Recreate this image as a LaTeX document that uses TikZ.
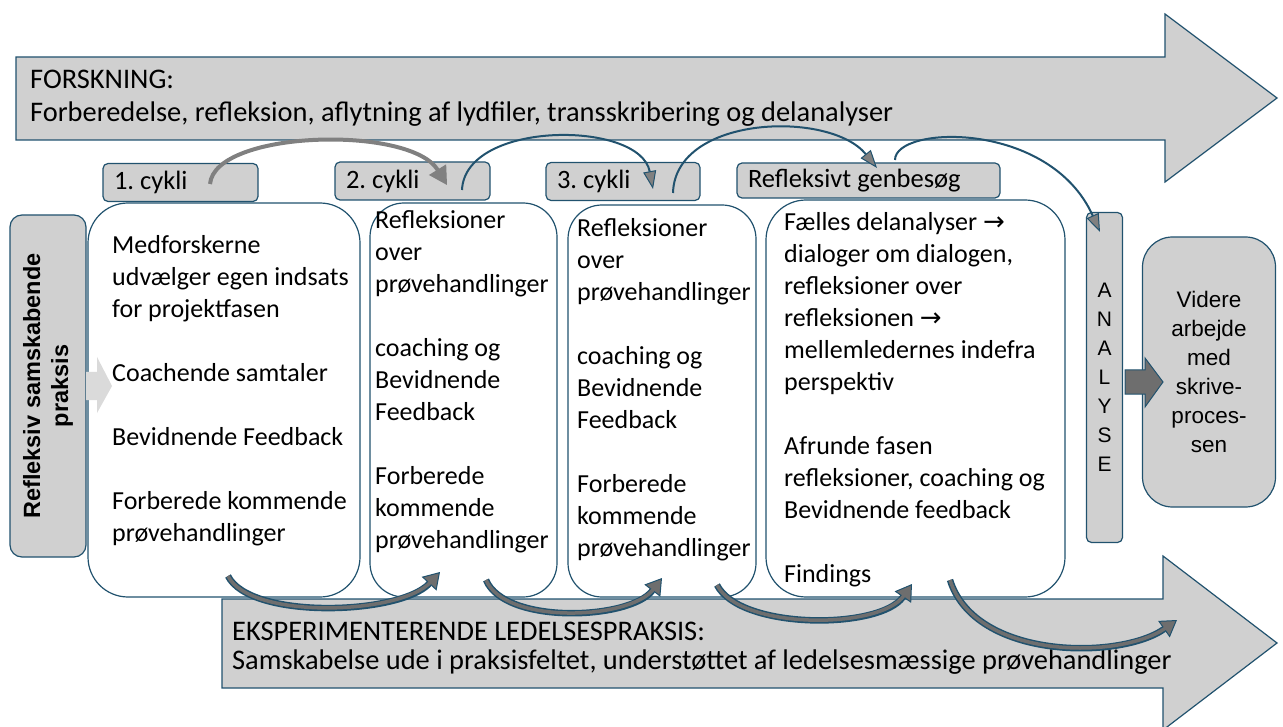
\documentclass[tikz,border=0pt]{standalone}
\usepackage{fontspec}
\setmainfont{Carlito}
\newfontfamily\arialfont{Liberation Sans}
\newfontfamily\symfont{DejaVu Sans}
\usetikzlibrary{arrows.meta}
\frenchspacing

\definecolor{edgeteal}{RGB}{33,82,110}
\definecolor{boxgray}{RGB}{208,208,208}
\definecolor{lightchev}{RGB}{218,218,218}
\definecolor{darkfill}{RGB}{110,110,110}
\definecolor{arcgray}{RGB}{128,128,128}

\newcommand{\rarr}{{\symfont\char"2192}}
\newcommand{\swoop}[4]{%
  \draw[loopedge] (#1) .. controls #2 and #3 .. (#4);
  \draw[loopcore] (#1) .. controls #2 and #3 .. (#4);}

\tikzset{
  flowarrow/.style={draw=edgeteal, fill=boxgray, line width=1.2pt},
  phasebox/.style={draw=edgeteal, fill=white, line width=1.2pt, rounded corners=34pt, inner sep=0pt},
  cyklabel/.style={draw=edgeteal, fill=boxgray, line width=1.2pt, rounded corners=5pt,
    minimum height=38pt, inner xsep=11pt, align=flush left, font=\fontsize{26.5}{30}\selectfont},
  phasetext/.style={anchor=north west, inner sep=0pt, align=left, font=\fontsize{26}{32}\selectfont},
  sidebox/.style={draw=edgeteal, fill=boxgray, line width=1.2pt, inner sep=0pt},
  flowtext/.style={anchor=base west, inner sep=0pt, font=\fontsize{28.4}{32}\selectfont},
  grayarc/.style={draw=arcgray, line width=4pt, -{Triangle[length=18pt,width=20pt,line width=1pt]}},
  tealarc/.style={draw=edgeteal, line width=2pt, -{Triangle[length=18pt,width=13pt,line width=1pt,fill=arcgray]}},
  loopedge/.style={draw=edgeteal, line width=6.5pt, -{Triangle[length=16pt,width=20pt,line width=1pt,fill=darkfill]}},
  loopcore/.style={draw=darkfill, line width=3.5pt, shorten >=14pt},
}

\begin{document}
\begin{tikzpicture}[x=1pt,y=-1pt]
\useasboundingbox (0,0) rectangle (1283,727);

% the two big flows
\draw[flowarrow] (16,57) -- (1165,57) -- (1165,14) -- (1277,98) -- (1165,182) -- (1165,140) -- (16,140) -- cycle;
\draw[flowarrow] (222,599) -- (1163,599) -- (1163,556) -- (1277,643) -- (1163,730) -- (1163,688) -- (222,688) -- cycle;
\node[flowtext] (forskhead) at (30,89) {FORSKNING:};
\node[flowtext] (forsktxt) at (30,122) {Forberedelse, refleksion, aflytning af lydfiler, transskribering og delanalyser};
\node[flowtext] (ledhead) at (232,640) {EKSPERIMENTERENDE LEDELSESPRAKSIS:};
\node[flowtext] (ledtxt) at (232,669) {Samskabelse ude i praksisfeltet, understøttet af ledelsesmæssige prøvehandlinger};

% phases
\node[phasebox, rounded corners=40pt, minimum width=272, minimum height=394] (fase1) at (224,400) {};
\node[phasebox, minimum width=187, minimum height=394] (fase2) at (463.5,400) {};
\node[phasebox, minimum width=188, minimum height=392] (fase3) at (662,401) {};
\node[phasebox, rounded corners=40pt, minimum width=299, minimum height=397] (fase4) at (915.5,398.5) {};

\node[phasetext] (txt1) at (112,235) {Medforskerne\\udvælger egen indsats\\for projektfasen\\[32pt]Coachende samtaler\\[32pt]Bevidnende Feedback\\[32pt]Forberede kommende\\prøvehandlinger};
\node[phasetext] (txt2) at (375,210) {Refleksioner\\over\\prøvehandlinger\\[32pt]coaching og\\Bevidnende\\Feedback\\[32pt]Forberede\\kommende\\prøvehandlinger};
\node[phasetext] (txt3) at (577,218) {Refleksioner\\over\\prøvehandlinger\\[32pt]coaching og\\Bevidnende\\Feedback\\[32pt]Forberede\\kommende\\prøvehandlinger};
\node[phasetext] (txt4) at (784,212) {Fælles delanalyser \rarr\\dialoger om dialogen,\\refleksioner over\\refleksionen \rarr\\mellemledernes indefra\\perspektiv\\[32pt]Afrunde fasen\\refleksioner, coaching og\\Bevidnende feedback\\[32pt]Findings};

% labels
\node[cyklabel, text width=133] (cyk1) at (180.5,182.5) {1. cykli};
\node[cyklabel, text width=133] (cyk2) at (412.5,181) {2. cykli};
\node[cyklabel, text width=132] (cyk3) at (623,181.5) {3. cykli};
\node[cyklabel, text width=241, minimum height=35pt] (genbes) at (868.5,180.5) {Refleksivt genbesøg};

% side boxes
\node[sidebox, rounded corners=12pt, minimum width=76, minimum height=342] (praksis) at (48,386) {};
\node[rotate=90, align=center, font=\arialfont\bfseries\fontsize{23.5}{28}\selectfont] (praksistxt) at (praksis.center) {Refleksiv samskabende\\praksis};
\draw[fill=lightchev, draw=none] (86,372) -- (97,372) -- (97,357) -- (112,386) -- (97,413) -- (97,400) -- (86,400) -- cycle;

\node[sidebox, rounded corners=5pt, minimum width=36, minimum height=330, align=center,
  font=\arialfont\fontsize{21}{29}\selectfont] (analyse) at (1104.5,377.5) {A\\N\\A\\L\\Y\\S\\E};
\node[sidebox, rounded corners=30pt, minimum width=133, minimum height=270, align=center,
  font=\arialfont\fontsize{22.5}{29}\selectfont] (videre) at (1209,372) {Videre\\arbejde\\med\\skrive-\\proces-\\sen};
\draw[fill=darkfill, draw=edgeteal, line width=1pt] (1125,370) -- (1145,370) -- (1145,358) -- (1163,382) -- (1145,407) -- (1145,394) -- (1125,394) -- cycle;

% arcs over the top
\coordinate (ga) at (210,184);  \coordinate (gb) at (447,185);
\coordinate (ta) at (462,190);  \coordinate (tb) at (653,189);
\coordinate (tc) at (673,193);  \coordinate (td) at (877,168);
\coordinate (te) at (895,160);  \coordinate (tf) at (1100,232);
\draw[grayarc] (ga) .. controls (215,130) and (410,125) .. (gb);
\draw[tealarc] (ta) .. controls (465,120) and (640,120) .. (tb);
\draw[tealarc] (tc) .. controls (675,115) and (830,110) .. (td);
\draw[tealarc] (te) .. controls (895,125) and (1050,120) .. (tf);

% arcs along the bottom
\coordinate (la) at (228,576);  \coordinate (lb) at (440,572);
\coordinate (lc) at (486,580);  \coordinate (ld) at (662,578);
\coordinate (le) at (717,585);  \coordinate (lf) at (912,584);
\coordinate (lg) at (950,580);  \coordinate (lh) at (1177,620);
\swoop{la}{(250,620)}{(400,615)}{lb}
\swoop{lc}{(505,625)}{(630,620)}{ld}
\swoop{le}{(740,630)}{(880,630)}{lf}
\swoop{lg}{(975,660)}{(1120,660)}{lh}
\end{tikzpicture}
\end{document}
